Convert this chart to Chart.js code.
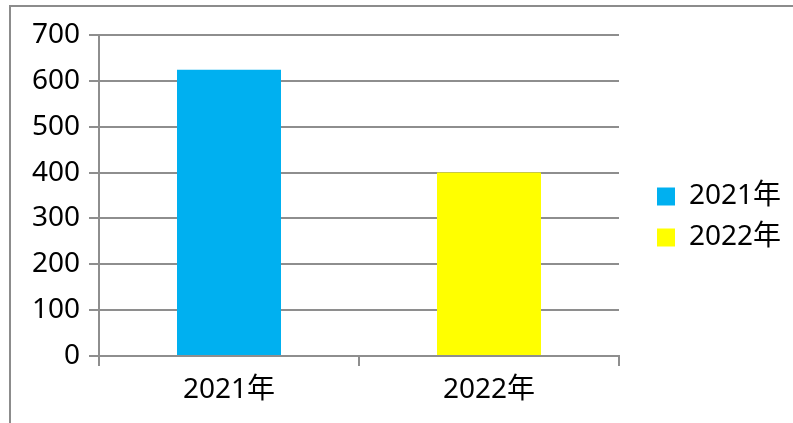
<!DOCTYPE html>
<html>
<head>
<meta charset="utf-8">
<title>2021年・2022年</title>
<script src="https://cdn.jsdelivr.net/npm/chart.js@4/dist/chart.umd.min.js"></script>
<style>
  html, body { margin: 0; padding: 0; background: #ffffff; overflow: hidden; }
  #wrap { position: relative; width: 793px; height: 423px; }
  #frame {
    position: absolute; left: 9px; top: 5px; right: -10px; bottom: -10px;
    border-left: 2px solid #8c8c8c; border-top: 2px solid #8c8c8c;
  }
  #chart { position: absolute; left: 0; top: 0; }
</style>
</head>
<body>
<div id="wrap">
  <div id="frame"></div>
  <canvas id="chart" width="793" height="423"></canvas>
</div>
<script>
// Categories and values
const categories = ['2021年', '2022年'];
const values = [624, 400];
const barColors = ['#00b0f0', '#ffff00'];
const yTicks = [0, 100, 200, 300, 400, 500, 600, 700];

const FONT = { family: "'Noto Sans', 'Noto Sans CJK SC', sans-serif", size: 28 };
const LINE = '#8e8e8e';

// Places the legend column to the right of the plot area
const legendPlacement = {
  id: 'legendPlacement',
  beforeLayout(chart) {
    const lg = chart.legend;
    if (lg && !lg.__fixedWidth) {
      const fit = lg.fit;
      lg.fit = function () { fit.call(this); this.width = 174; };
      lg.__fixedWidth = true;
    }
  },
  afterLayout(chart) {
    const lg = chart.legend;
    if (!lg) return;
    const pad = lg.options.labels.padding;
    const dx = (chart.chartArea.right + 38) - (lg.left + pad);
    const dy = -12;
    lg.left += dx; lg.right += dx;
    lg.top += dy; lg.bottom += dy;
  }
};

new Chart(document.getElementById('chart'), {
  type: 'bar',
  data: {
    labels: categories,
    datasets: [{
      label: '',
      data: values,
      backgroundColor: barColors,
      borderWidth: 0,
      categoryPercentage: 1,
      barPercentage: 0.4
    }]
  },
  options: {
    responsive: false,
    animation: false,
    layout: { padding: { top: 35, right: 0, bottom: 0, left: 0 } },
    plugins: {
      tooltip: { enabled: false },
      legend: {
        position: 'right',
        align: 'center',
        labels: {
          font: FONT,
          color: '#000000',
          boxWidth: 18,
          boxHeight: 18,
          padding: 13,
          generateLabels(chart) {
            return categories.map((c, i) => ({
              text: c,
              fillStyle: barColors[i],
              strokeStyle: barColors[i],
              lineWidth: 0,
              fontColor: '#000000',
              hidden: false,
              index: i
            }));
          }
        }
      }
    },
    scales: {
      x: {
        grid: {
          offset: true,
          drawOnChartArea: false,
          drawTicks: true,
          tickLength: 10,
          color: LINE,
          lineWidth: 2
        },
        border: { color: LINE, width: 2 },
        ticks: { font: FONT, color: '#000000', padding: 7 },
        afterFit(s) { s.height = 67; }
      },
      y: {
        min: 0,
        max: 700,
        afterBuildTicks(s) { s.ticks = yTicks.map(v => ({ value: v })); },
        grid: { color: LINE, lineWidth: 2, tickLength: 10, drawTicks: true },
        border: { color: LINE, width: 2 },
        ticks: { font: FONT, color: '#000000', padding: 9 },
        afterFit(s) { s.width = 99; }
      }
    }
  },
  plugins: [legendPlacement]
});
</script>
</body>
</html>
